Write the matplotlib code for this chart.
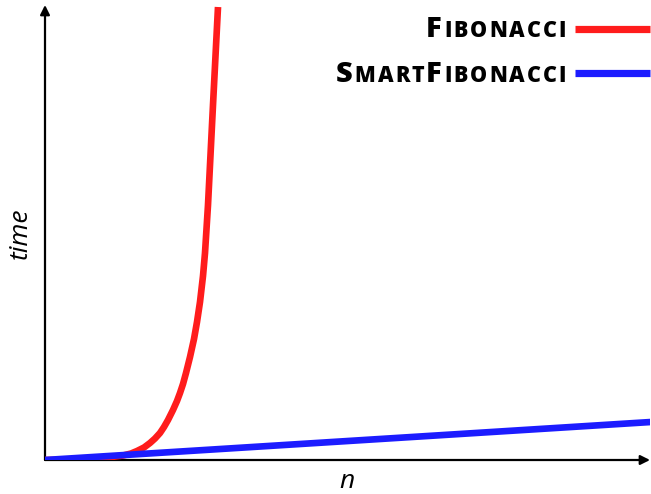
import matplotlib
matplotlib.use("Agg")
import matplotlib.pyplot as plt
from matplotlib.lines import Line2D

# Data (arbitrary units)
fib_n = [0, 30, 45, 58, 68, 78, 86, 92, 99, 105, 110, 115, 119, 123, 128, 132, 135,
         138, 141, 145, 149, 152, 155, 158, 160, 163, 168, 173]
fib_t = [0, 0.5, 1.0, 2, 3.2, 4.5, 6.5, 9, 12.5, 17, 21.5, 27, 33, 40, 50, 59, 67,
         76, 87, 103, 121, 138, 158, 184, 207, 255, 355, 453]
smart_n = [0, 606]
smart_t = [0, 38]

series_names = [["F", "IBONACCI"], ["S", "MART", "F", "IBONACCI"]]
series_colors = ["#ff1c1c", "#1c1cff"]
x_label = "n"
y_label = "time"

W, H = 651, 494
fig = plt.figure(figsize=(W / 100, H / 100), dpi=100)
ax = fig.add_axes([45 / W, 34 / H, 605 / W, 455 / H])
ax.set_xlim(0, 605)
ax.set_ylim(0, 455)
for s in ax.spines.values():
    s.set_visible(False)
ax.set_xticks([])
ax.set_yticks([])
ax.patch.set_alpha(0)

lw = 4.8
ax.plot(fib_n, fib_t, color=series_colors[0], lw=lw, solid_capstyle="butt",
        solid_joinstyle="round", zorder=3)
ax.plot(smart_n, smart_t, color=series_colors[1], lw=lw, solid_capstyle="butt", zorder=4)

arrow = dict(arrowstyle="-|>", mutation_scale=14, lw=1.6, color="black", shrinkA=0, shrinkB=0)
ax.annotate("", xy=(1.0, 0), xytext=(0, 0), xycoords="axes fraction",
            textcoords="axes fraction", arrowprops=arrow, zorder=1)
ax.annotate("", xy=(0, 1.0), xytext=(0, 0), xycoords="axes fraction",
            textcoords="axes fraction", arrowprops=arrow, zorder=1)

fig.text(347 / W, 1 - 481 / H, x_label, fontsize=19, fontstyle="italic",
         family="Open Sans", ha="center", va="center")
fig.text(20 / W, 1 - 233 / H, y_label, fontsize=19, fontstyle="italic",
         family="Open Sans", ha="center", va="center", rotation=90)

# Legend with small caps text (letter by letter, with tracking)
fig.canvas.draw()
renderer = fig.canvas.get_renderer()
big, small = 21, 15.5
track = 2.0
baselines = [37, 82]
line_y = [29, 73]
right_x = 566
for names, color, base, ly in zip(series_names, series_colors, baselines, line_y):
    x = right_x
    for piece in reversed(names):
        size = big if len(piece) == 1 else small
        for ch in reversed(piece):
            t = fig.text(x / W, 1 - base / H, ch, fontsize=size, fontweight="heavy",
                         family="Open Sans", ha="right", va="baseline")
            bb = t.get_window_extent(renderer)
            x -= bb.width + track
    fig.add_artist(Line2D([575 / W, 650 / W], [1 - ly / H, 1 - ly / H],
                          color=color, lw=5.2, solid_capstyle="butt",
                          transform=fig.transFigure))

fig.savefig("out.png", dpi=100)
